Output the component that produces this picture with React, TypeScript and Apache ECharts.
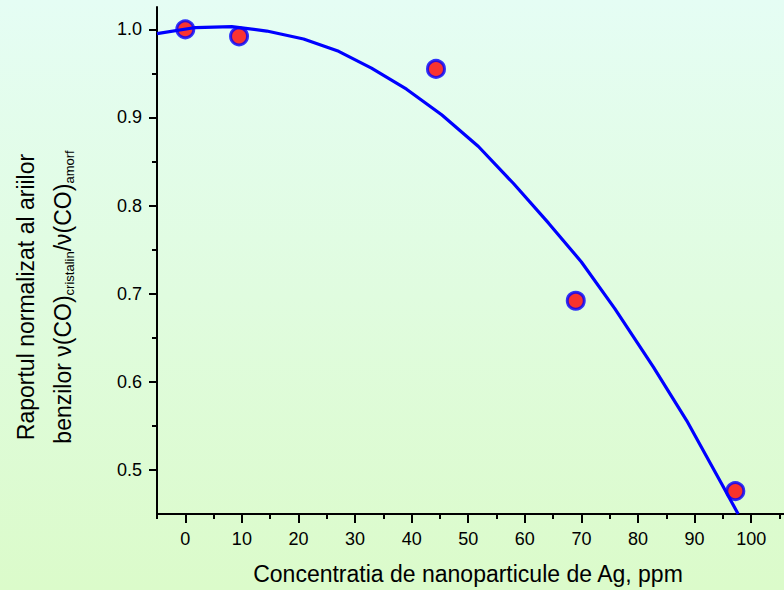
import React, { useEffect, useRef } from "react";
import * as echarts from "echarts";

const xMajorTicks = [0, 10, 20, 30, 40, 50, 60, 70, 80, 90, 100];
const xMinorTicks = [-5, 5, 15, 25, 35, 45, 55, 65, 75, 85, 95, 105];
const yMajorTicks = [0.5, 0.6, 0.7, 0.8, 0.9, 1.0];
const yMinorTicks = [0.55, 0.65, 0.75, 0.85, 0.95];

const pointsX = [0, 9.5, 44.3, 69.0, 97.2];
const pointsY = [1.0, 0.992, 0.955, 0.692, 0.476];

const curveX = [-5, 1.8, 8.2, 14.4, 20.9, 27.1, 32.9, 39.1, 45.3, 51.8, 58.0, 64.2, 70.0, 75.9, 82.7, 88.6, 94.8, 97.7];
const curveY = [0.995, 1.002, 1.003, 0.998, 0.989, 0.975, 0.956, 0.932, 0.903, 0.867, 0.825, 0.78, 0.736, 0.683, 0.617, 0.556, 0.484, 0.45];

const xTitle = "Concentratia de nanoparticule de Ag, ppm";
const yTitleLine1 = "Raportul normalizat al ariilor";
// second line pieces: [text, isSubscript]
const yTitleLine2: [string, boolean][] = [
  ["benzilor ν(CO)", false],
  ["cristalin", true],
  ["/ν(CO)", false],
  ["amorf", true],
];

const FONT = "'Liberation Sans', Arial, sans-serif";
const MAIN_SIZE = 23;
const SUB_SIZE = 13;

export default function App() {
  const ref = useRef<HTMLDivElement>(null);
  useEffect(() => {
    document.body.style.margin = "0";
    const chart = echarts.init(ref.current!, null, { renderer: "svg" });

    const ctx = document.createElement("canvas").getContext("2d")!;
    const measure = (t: string, size: number) => {
      ctx.font = `${size}px 'Liberation Sans', Arial, sans-serif`;
      return ctx.measureText(t).width;
    };
    const widths = yTitleLine2.map(([t, sub]) => measure(t, sub ? SUB_SIZE : MAIN_SIZE));
    const total = widths.reduce((a, b) => a + b, 0);
    let cursor = -total / 2;
    const line2Children = yTitleLine2.map(([t, sub], i) => {
      const el = {
        type: "text",
        x: cursor,
        y: sub ? 69.5 : 62.5,
        style: {
          text: t,
          fill: "#000",
          font: `${sub ? SUB_SIZE : MAIN_SIZE}px ${FONT}`,
          align: "left",
          verticalAlign: "middle",
        },
      };
      cursor += widths[i];
      return el;
    });

    const xMin = -5;
    const xMax = 105.8;
    const yMin = 0.45;
    const yMax = 1.0253;
    const axisLine = { show: true, onZero: false, lineStyle: { color: "#000", width: 2 } };
    chart.setOption({
      animation: false,
      backgroundColor: {
        type: "linear", x: 0, y: 0, x2: 0, y2: 1,
        colorStops: [
          { offset: 0, color: "#e5fdf4" },
          { offset: 1, color: "#dbfbca" },
        ],
      },
      grid: { left: 157, right: 0, top: 7, bottom: 76 },
      xAxis: [
        {
          type: "value", min: xMin, max: xMax, position: "bottom",
          axisLine,
          splitLine: { show: false },
          axisTick: { show: true, length: 9, lineStyle: { color: "#000", width: 2 }, customValues: xMajorTicks },
          axisLabel: { show: true, customValues: xMajorTicks, margin: 16, fontSize: 18, fontFamily: FONT, color: "#000" },
        },
        {
          type: "value", min: xMin, max: xMax, position: "bottom",
          axisLine: { show: false, onZero: false },
          splitLine: { show: false },
          axisTick: { show: true, length: 5, lineStyle: { color: "#000", width: 2 }, customValues: xMinorTicks },
          axisLabel: { show: false },
        },
      ],
      yAxis: [
        {
          type: "value", min: yMin, max: yMax, position: "left",
          axisLine,
          splitLine: { show: false },
          axisTick: { show: true, length: 8, lineStyle: { color: "#000", width: 2 }, customValues: yMajorTicks },
          axisLabel: {
            show: true, customValues: yMajorTicks, margin: 15, fontSize: 18, fontFamily: FONT, color: "#000",
            formatter: (v: number) => v.toFixed(1),
          },
        },
        {
          type: "value", min: yMin, max: yMax, position: "left",
          axisLine: { show: false, onZero: false },
          splitLine: { show: false },
          axisTick: { show: true, length: 5, lineStyle: { color: "#000", width: 2 }, customValues: yMinorTicks },
          axisLabel: { show: false },
        },
      ],
      graphic: [
        {
          type: "text",
          x: 468,
          y: 574,
          style: {
            text: xTitle,
            fill: "#000",
            font: `${MAIN_SIZE}px ${FONT}`,
            align: "center",
            verticalAlign: "middle",
          },
        },
        {
          type: "group",
          x: 0,
          y: 297,
          rotation: Math.PI / 2,
          children: [
            {
              type: "text",
              x: 0,
              y: 26,
              style: {
                text: yTitleLine1,
                fill: "#000",
                font: `${MAIN_SIZE}px ${FONT}`,
                align: "center",
                verticalAlign: "middle",
              },
            },
            ...line2Children,
          ],
        },
      ],
      series: [
        {
          type: "scatter",
          xAxisIndex: 0,
          yAxisIndex: 0,
          data: pointsX.map((x, i) => [x, pointsY[i]]),
          symbol: "circle",
          symbolSize: 17,
          itemStyle: { color: "#ff0000", borderColor: "#0000ff", borderWidth: 3 },
          z: 2,
        },
        {
          type: "line",
          xAxisIndex: 0,
          yAxisIndex: 0,
          data: curveX.map((x, i) => [x, curveY[i]]),
          showSymbol: false,
          symbol: "none",
          lineStyle: { color: "#0000ff", width: 3.2 },
          clip: true,
          z: 3,
        },
      ],
    });
    return () => chart.dispose();
  }, []);
  return <div ref={ref} style={{ width: 784, height: 590 }} />;
}
